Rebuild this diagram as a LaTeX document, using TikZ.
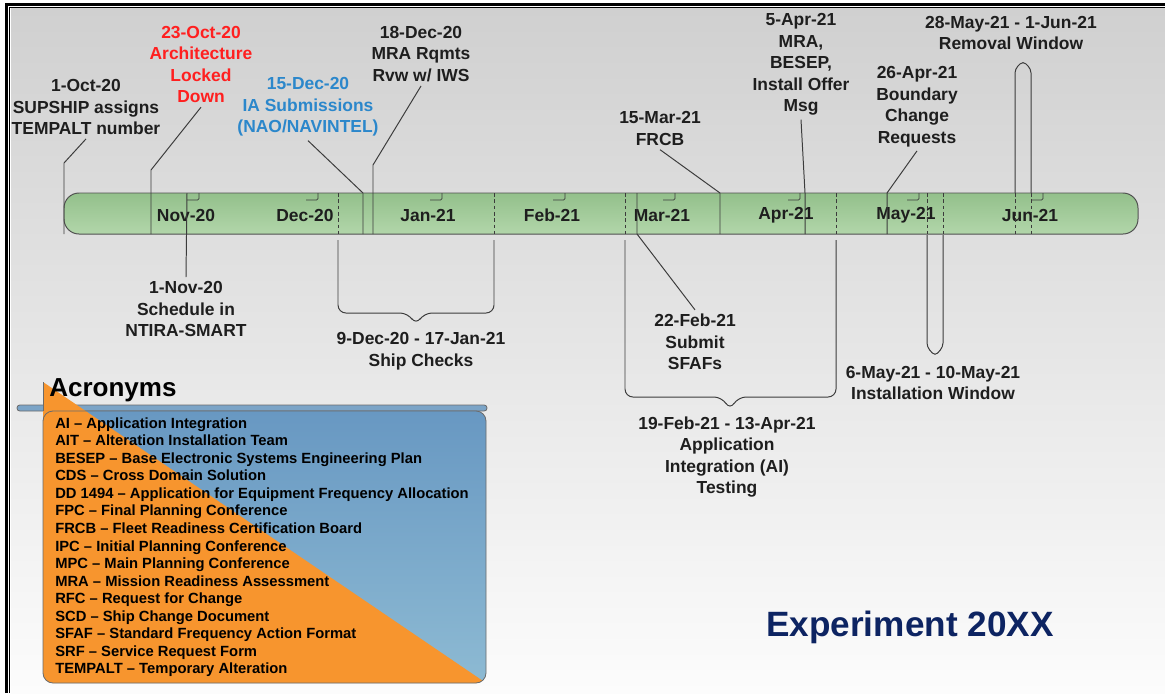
\documentclass[tikz,border=0pt]{standalone}
\usepackage{fontspec}
\setmainfont{Liberation Sans}
\usepackage{tikz}
\definecolor{txtgray}{HTML}{1E1E1E}
\definecolor{lockred}{HTML}{FF1F1F}
\definecolor{iablue}{HTML}{2B87CB}
\definecolor{leadgray}{HTML}{3C3C3C}
\definecolor{bartop}{HTML}{93C08B}
\definecolor{barbot}{HTML}{B2D6AA}
\definecolor{barline}{HTML}{505050}
\definecolor{bgtop}{HTML}{D0D0D0}
\definecolor{bgbot}{HTML}{FCFCFC}
\definecolor{acrobluetop}{HTML}{6898C2}
\definecolor{acrobluebot}{HTML}{8DBAD3}
\definecolor{acrorange}{HTML}{F7952E}
\definecolor{stripblue}{HTML}{7BA4C7}
\definecolor{acroline}{HTML}{6B6B6B}
\definecolor{navy}{HTML}{0D2462}

\begin{document}
\begin{tikzpicture}[x=0.025cm, y=-0.025cm,
    evt/.style={align=center, text=txtgray, inner sep=2pt, outer sep=1pt,
      font=\fontsize{12.4}{15.3}\selectfont\bfseries},
    month/.style={text=txtgray, inner sep=0pt, font=\fontsize{12.4}{15}\selectfont\bfseries},
    leader/.style={draw=leadgray, line width=0.7pt},
    inbar/.style={draw=leadgray, line width=0.6pt, dash pattern=on 2.5pt off 2pt},
    monthhook/.style={draw=leadgray, line width=0.6pt, rounded corners=1pt},
    acro/.style={anchor=base west, inner sep=0pt, text=black,
      font=\fontsize{10.5}{12}\selectfont\bfseries}]
    \useasboundingbox (0,0) rectangle (1165,693);

    %% Background and frame
    \fill[white] (0,0) rectangle (1165,693);
    \shade[top color=bgtop, bottom color=bgbot] (11,8) rectangle (1165,693);
    \draw[line width=1.6pt] (6.5,693) -- (6.5,4.5) -- (1165,4.5);
    \draw[line width=0.5pt] (9.5,693) -- (9.5,7.5) -- (1165,7.5);

    %% Timeline bar
    \shadedraw[top color=bartop, bottom color=barbot, draw=barline, line width=0.7pt,
      rounded corners=0.375cm] (64,193) rectangle (1138,234);
    \foreach \mx/\mname in {186/Nov-20, 305/Dec-20, 428/Jan-21, 552/Feb-21,
                            662/Mar-21, 786/Apr-21, 906/May-21, 1030/Jun-21}
      \node[month] (m-\mname) at (\mx,215) {\mname};
    \foreach \hx in {187,306,430,553,663,788,907,1031}
      \draw[monthhook] (\hx,200) -- ++(12,0) -- ++(0,-7);
    \foreach \dx in {338,494,625,836,927,943,1015,1031}
      \draw[inbar] (\dx,193) -- (\dx,234);

    %% Milestones above the bar
    \node[evt] (oct1) at (86,107) {1-Oct-20\\SUPSHIP assigns\\TEMPALT number};
    \node[evt, text=lockred] (oct23) at (201,64.5) {23-Oct-20\\Architecture\\Locked\\Down};
    \node[evt, text=iablue] (dec15) at (308,107) {15-Dec-20\\IA Submissions\\(NAO/NAVINTEL)};
    \node[evt] (dec18) at (421,54) {18-Dec-20\\MRA Rqmts\\Rvw w/ IWS};
    \node[evt] (frcb) at (660,128.5) {15-Mar-21\\FRCB};
    \node[evt] (apr5) at (801,64.5) {5-Apr-21\\MRA,\\BESEP,\\Install Offer\\Msg};
    \node[evt] (apr26) at (917,106.5) {26-Apr-21\\Boundary\\Change\\Requests};
    \node[evt] (removal) at (1011,33) {28-May-21 - 1-Jun-21\\Removal Window};

    %% Milestones below the bar
    \node[evt] (nov1) at (186,309) {1-Nov-20\\Schedule in\\NTIRA-SMART};
    \node[evt] (shipchk) at (421,351) {9-Dec-20 - 17-Jan-21\\Ship Checks};
    \node[evt] (sfaf) at (695,342) {22-Feb-21\\Submit\\SFAFs};
    \node[evt] (aitest) at (727,457) {19-Feb-21 - 13-Apr-21\\Application\\Integration (AI)\\Testing};
    \node[evt] (install) at (933,383) {6-May-21 - 10-May-21\\Installation Window};

    %% Leader lines
    \coordinate (oct1-bend) at (64,163);   \coordinate (oct1-bar) at (64,234);
    \coordinate (oct23-bend) at (151,170); \coordinate (oct23-bar) at (151,234);
    \coordinate (dec15-bend) at (363,193); \coordinate (dec15-bar) at (363,234);
    \coordinate (dec18-bend) at (373,165); \coordinate (dec18-bar) at (373,234);
    \coordinate (frcb-bend) at (720,193);  \coordinate (frcb-bar) at (720,234);
    \coordinate (apr5-bend) at (805,193);  \coordinate (apr5-bar) at (805,234);
    \coordinate (apr26-bend) at (887,193); \coordinate (apr26-bar) at (887,234);
    \coordinate (nov1-bar) at (187,193);
    \coordinate (sfaf-top) at (637,193);   \coordinate (sfaf-bar) at (637,234);
    \draw[leader] (oct1.south) -- (oct1-bend) -- (oct1-bar);
    \draw[leader] (oct23.south) -- (oct23-bend) -- (oct23-bar);
    \draw[leader] (dec15.south) -- (dec15-bend) -- (dec15-bar);
    \draw[leader] (dec18.south) -- (dec18-bend) -- (dec18-bar);
    \draw[leader] (frcb.south) -- (frcb-bend) -- (frcb-bar);
    \draw[leader] (apr5.south) -- (apr5-bend) -- (apr5-bar);
    \draw[leader] (apr26.south) -- (apr26-bend) -- (apr26-bar);
    \draw[leader] (nov1-bar) -- (nov1.north);
    \draw[leader] (sfaf-top) -- (sfaf-bar) -- (sfaf.north);

    %% Brackets for the windows
    \coordinate (ship-tip) at (416,325);
    \coordinate (ai-tip) at (730,410);
    \coordinate (rem-tip) at (1023,61);
    \coordinate (inst-tip) at (935,356);
    \draw[leader, rounded corners=0.2cm] (338,240) -- (338,313) -- (408,313) -- (ship-tip)
      -- (424,313) -- (494,313) -- (494,240);
    \draw[leader, rounded corners=0.2cm] (625,240) -- (625,397) -- (722,397) -- (ai-tip)
      -- (738,397) -- (836,397) -- (836,240);
    \draw[leader, rounded corners=0.1cm] (1015,193) -- (1015,69) -- (rem-tip)
      -- (1031,69) -- (1031,193);
    \draw[leader, rounded corners=0.1cm] (927,235) -- (927,347) -- (inst-tip)
      -- (943,347) -- (943,235);

    %% Acronyms box
    \filldraw[fill=stripblue, draw=acroline, line width=0.6pt, rounded corners=0.07cm]
      (17,405) rectangle (487,411);
    \shade[top color=acrobluetop, bottom color=acrobluebot, rounded corners=0.25cm]
      (43,411) rectangle (486,683);
    \begin{scope}
      \clip[rounded corners=0.25cm] (43,370) rectangle (486,683);
      \fill[acrorange] (43,382) -- (486,683) -- (43,683) -- cycle;
    \end{scope}
    \draw[acroline, line width=0.6pt, rounded corners=0.25cm] (43,411) rectangle (486,683);
    \draw[acroline, line width=0.4pt] (43,382) -- (43,411);
    \node[anchor=base west, inner sep=0pt, font=\fontsize{18.5}{22}\selectfont\bfseries]
      (acrotitle) at (49,396) {Acronyms};
    \foreach \acr [count=\i from 0] in {AI – Application Integration,
        AIT – Alteration Installation Team,
        BESEP – Base Electronic Systems Engineering Plan,
        CDS – Cross Domain Solution,
        DD 1494 – Application for Equipment Frequency Allocation,
        FPC – Final Planning Conference,
        FRCB – Fleet Readiness Certification Board,
        IPC – Initial Planning Conference,
        MPC – Main Planning Conference,
        MRA – Mission Readiness Assessment,
        RFC – Request for Change,
        SCD – Ship Change Document,
        SFAF – Standard Frequency Action Format,
        SRF – Service Request Form,
        TEMPALT – Temporary Alteration}
      \node[acro] (acro\i) at (55,{428+17.57*\i}) {\acr};

    %% Title
    \node[anchor=base west, inner sep=0pt, text=navy, font=\fontsize{25}{30}\selectfont\bfseries]
      (title) at (766,636) {Experiment 20XX};
\end{tikzpicture}
\end{document}
